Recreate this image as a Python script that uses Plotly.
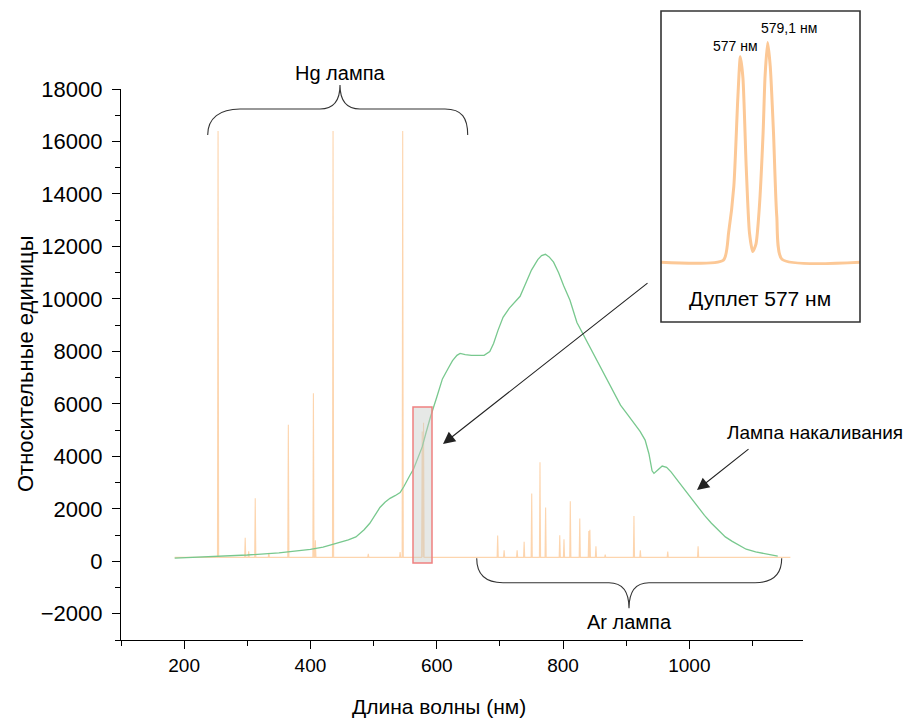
import plotly.graph_objects as go

# ---------------- data ----------------
# Incandescent lamp spectrum (green)
lamp_wl = [185, 250, 300, 350, 380, 400, 420, 440, 450, 460, 472, 485, 494, 502, 510,
           518, 526, 534, 542, 548, 553, 558, 563, 570, 577, 583, 590, 600, 609, 618,
           625, 632, 637, 645, 655, 665, 675, 684, 690, 697, 705, 715, 725, 732, 742,
           750, 760, 766, 772, 778, 785, 793, 801, 811, 822, 835, 848, 858, 869, 880,
           891, 902, 912, 922, 930, 936, 941, 944, 950, 957, 964, 971, 984, 997, 1013,
           1024, 1035, 1046, 1057, 1068, 1078, 1090, 1105, 1120, 1132, 1140]
lamp_val = [120, 180, 240, 320, 390, 450, 540, 680, 730, 820, 930, 1200, 1450, 1750, 2050,
            2250, 2400, 2500, 2620, 2850, 3090, 3300, 3500, 3950, 4360, 4900, 5500, 6250, 6950, 7350,
            7650, 7850, 7920, 7880, 7850, 7850, 7850, 7990, 8300, 8800, 9300, 9650, 9900, 10100, 10650,
            11100, 11500, 11650, 11700, 11600, 11400, 11000, 10500, 9950, 9100, 8500, 7950, 7450, 6970, 6450,
            5950, 5600, 5260, 4950, 4620, 4100, 3450, 3350, 3480, 3630, 3580, 3410, 3000, 2580, 2070,
            1750, 1450, 1180, 930, 760, 610, 460, 355, 280, 230, 200]

# Hg lamp lines (wavelength nm, peak counts)
hg_wl = [253.7, 296.7, 302.2, 312.6, 334.1, 365.0, 404.7, 407.8, 435.8, 491.6, 542.0, 546.1, 577.0, 579.1]
hg_val = [16400, 900, 380, 2400, 320, 5200, 6400, 800, 16400, 280, 350, 16400, 4950, 5280]

# Ar lamp lines
ar_wl = [696.5, 706.7, 727.3, 738.4, 750.4, 763.5, 772.4, 794.8, 801.5, 811.5, 826.5, 840.8,
         842.5, 852.1, 866.8, 912.3, 922.4, 965.8, 1013.9]
ar_val = [985, 420, 420, 740, 2580, 3770, 2050, 990, 840, 2290, 1630, 1150,
          1200, 570, 250, 1730, 420, 370, 570]

line_baseline = 150
line_range = [185, 1160]

# Inset: 577 nm doublet
inset_wl = [570.85, 575.7, 576.1, 576.5, 576.8, 577.0, 577.2, 577.45, 577.7, 577.95, 578.2,
            578.45, 578.75, 578.9, 579.1, 579.3, 579.55, 579.8, 580.2, 586.2]
inset_val = [150, 200, 860, 1970, 4030, 5060, 4550, 2440, 860, 405, 580,
             1410, 3240, 4590, 5400, 4830, 3240, 1250, 220, 150]

x_tick_vals = [200, 400, 600, 800, 1000]
y_tick_vals = [-2000, 0, 2000, 4000, 6000, 8000, 10000, 12000, 14000, 16000, 18000]

# ---------------- geometry helpers ----------------
W, H = 916, 718
L, R, T, B = 121, 56, 11, 78
PW, PH = W - L - R, H - T - B


def px(x):
    return (x - L) / PW


def py(y):
    return (H - B - y) / PH


FONT = "Liberation Sans, Arial, sans-serif"
ORANGE_MAIN = "rgba(251,185,120,0.6)"
ORANGE = "rgb(252,200,150)"
GREEN = "rgb(120,200,142)"

# build line spectrum polyline from the line lists
lines = sorted(zip(hg_wl + ar_wl, hg_val + ar_val))
hw = 0.9
lx, ly = [line_range[0]], [line_baseline]
for w, h in lines:
    lx += [w - hw, w, w + hw]
    ly += [line_baseline, h, line_baseline]
lx.append(line_range[1])
ly.append(line_baseline)

fig = go.Figure()
fig.add_trace(go.Scatter(x=lx, y=ly, mode="lines", line=dict(color=ORANGE_MAIN, width=1.1),
                         hoverinfo="skip", showlegend=False))
fig.add_trace(go.Scatter(x=lamp_wl, y=lamp_val, mode="lines", line=dict(color=GREEN, width=1.3),
                         showlegend=False))
fig.add_trace(go.Scatter(x=inset_wl, y=inset_val, mode="lines", xaxis="x2", yaxis="y2",
                         line=dict(color=ORANGE, width=3, shape="spline", smoothing=0.6),
                         showlegend=False))

axis_common = dict(showgrid=False, zeroline=False, showline=True, linecolor="#000",
                   linewidth=1.3, ticks="outside", ticklen=8, tickwidth=1.3, tickcolor="#000",
                   mirror=False, automargin=False)

fig.update_layout(
    template="none",
    width=W, height=H, autosize=False,
    margin=dict(l=L, r=R, t=T, b=B, pad=0, autoexpand=False),
    paper_bgcolor="white", plot_bgcolor="white",
    font=dict(family=FONT, color="#000"),
    xaxis=dict(domain=[0, 682 / PW], range=[100, 1180], tickvals=x_tick_vals, tickformat="d",
               tickfont=dict(size=19, family=FONT), ticklabelstandoff=0,
               minor=dict(ticks="outside", ticklen=5, tickwidth=1.3, dtick=100, tick0=0,
                          tickcolor="#000"),
               anchor="y", **axis_common),
    yaxis=dict(domain=[0, 551 / PH], range=[-3000, 18000], tickvals=y_tick_vals, tickformat="d",
               tickfont=dict(size=22, family=FONT), ticklabelstandoff=5,
               minor=dict(ticks="outside", ticklen=5, tickwidth=1.3, dtick=1000, tick0=0,
                          tickcolor="#000"),
               anchor="x", **axis_common),
    xaxis2=dict(domain=[px(661), 1], range=[570.9, 586.2], visible=False, anchor="y2"),
    yaxis2=dict(domain=[py(322), 1], range=[-1280, 6155], visible=False, anchor="x2"),
)

shapes = []
# highlighted region
shapes.append(dict(type="rect", xref="x", yref="y", x0=562.4, x1=592.5, y0=-65, y1=5880,
                   fillcolor="rgba(200,205,200,0.45)", line=dict(color="rgb(240,128,128)", width=1.5),
                   layer="above"))
# inset frame
shapes.append(dict(type="rect", xref="x2 domain", yref="y2 domain", x0=0, x1=1, y0=0, y1=1,
                   line=dict(color="#333", width=1.6), fillcolor="rgba(0,0,0,0)"))


def P(x, y):
    return f"{px(x):.5f},{py(y):.5f}"


# Hg brace (opening downward)
hg_path = (f"M {P(207.7,135)} C {P(207.7,118)} {P(220,109)} {P(240,109)} "
           f"L {P(320,109)} C {P(334,109)} {P(340,101)} {P(340,85)} "
           f"C {P(340,101)} {P(346,109)} {P(360,109)} "
           f"L {P(445,109)} C {P(462,109)} {P(467.7,118)} {P(467.7,135)}")
shapes.append(dict(type="path", xref="paper", yref="paper", path=hg_path,
                   line=dict(color="#333", width=1.1)))
# Ar brace (opening upward)
ar_path = (f"M {P(476.7,558.3)} C {P(476.7,575)} {P(486,582.7)} {P(503,582.7)} "
           f"L {P(609,582.7)} C {P(623,582.7)} {P(629,592)} {P(629,608.3)} "
           f"C {P(629,592)} {P(635,582.7)} {P(649,582.7)} "
           f"L {P(755,582.7)} C {P(772,582.7)} {P(781.7,575)} {P(781.7,558.3)}")
shapes.append(dict(type="path", xref="paper", yref="paper", path=ar_path,
                   line=dict(color="#333", width=1.1)))
fig.update_layout(shapes=shapes)

ann = []


def text(x, y, s, size, **kw):
    d = dict(x=px(x), y=py(y), xref="paper", yref="paper", text=s, showarrow=False,
             font=dict(size=size, family=FONT, color="#000"), xanchor="center", yanchor="middle")
    d.update(kw)
    ann.append(d)


text(340, 73, "Hg лампа", 20)
text(629, 622, "Ar лампа", 20)
text(815, 432, "Лампа накаливания", 19)
text(760, 298, "Дуплет 577 нм", 21)
text(735, 46, "577 нм", 14)
text(789, 28, "579,1 нм", 14)
text(439, 706, "Длина волны (нм)", 21)
text(25, 364, "Относительные единицы", 22, textangle=-90)

# arrows
for (hx, hy, tx, ty) in [(443, 444, 649, 282), (697, 490, 750, 448)]:
    ann.append(dict(x=px(hx), y=py(hy), xref="paper", yref="paper", text="", showarrow=True,
                    ax=tx - hx, ay=ty - hy, axref="pixel", ayref="pixel",
                    arrowhead=2, arrowsize=2.2, arrowwidth=1.1, arrowcolor="#222"))
fig.update_layout(annotations=ann)

fig.write_html("out.html", config={"displayModeBar": False},
               post_script="document.body.style.margin='0';")
